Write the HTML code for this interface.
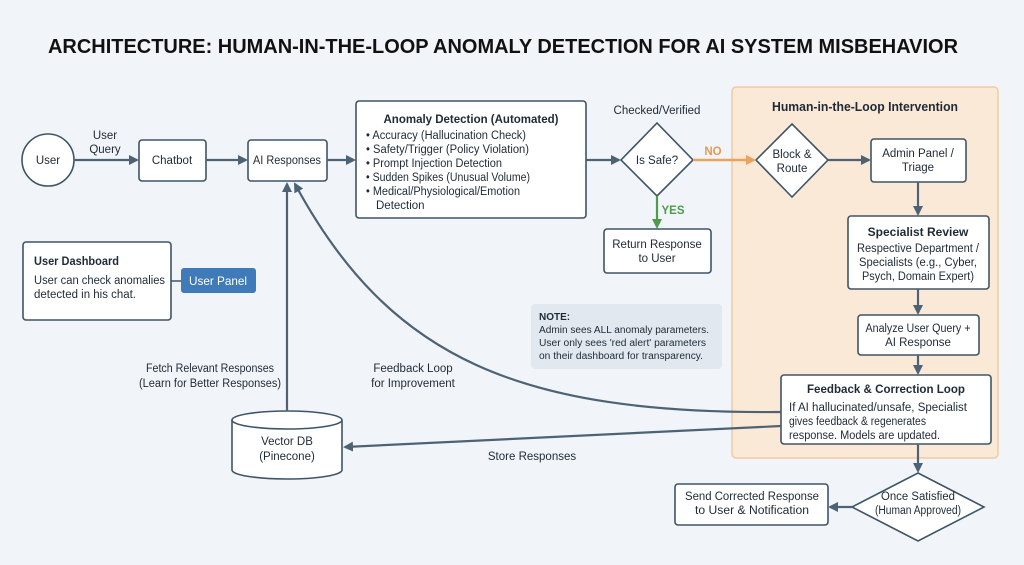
<!DOCTYPE html>
<html><head><meta charset="utf-8"><style>
html,body{margin:0;padding:0;background:#f1f5f9;}
svg{display:block;font-family:"Liberation Sans",sans-serif;}
</style></head><body>
<svg width="1024" height="565" viewBox="0 0 1024 565" xmlns="http://www.w3.org/2000/svg">
<defs>
<marker id="a" markerWidth="10" markerHeight="10" refX="8" refY="5" orient="auto" markerUnits="userSpaceOnUse"><path d="M0,0 L10,5 L0,10 z" fill="#4d6275"/></marker>
<marker id="o" markerWidth="10" markerHeight="10" refX="8" refY="5" orient="auto" markerUnits="userSpaceOnUse"><path d="M0,0 L10,5 L0,10 z" fill="#e9a35e"/></marker>
<marker id="g" markerWidth="10" markerHeight="10" refX="8" refY="5" orient="auto" markerUnits="userSpaceOnUse"><path d="M0,0 L10,5 L0,10 z" fill="#4f9a4f"/></marker>
</defs>
<rect width="1024" height="565" fill="#f1f5f9"/>
<text x="503" y="53" text-anchor="middle" font-size="20" font-weight="bold" fill="#111" textLength="910" lengthAdjust="spacingAndGlyphs">ARCHITECTURE: HUMAN-IN-THE-LOOP ANOMALY DETECTION FOR AI SYSTEM MISBEHAVIOR</text>

<rect x="732" y="87" width="266" height="371" rx="4" fill="#fbe9d7" stroke="#f0cba3" stroke-width="1.5"/>
<text x="865" y="111" text-anchor="middle" font-size="13" font-weight="bold" fill="#1f2a36" textLength="186" lengthAdjust="spacingAndGlyphs">Human-in-the-Loop Intervention</text>

<g fill="#fff" stroke="#3f5466" stroke-width="1.6">
<circle cx="48" cy="160" r="26"/>
<rect x="139" y="140" width="67" height="41" rx="3"/>
<rect x="248" y="140" width="79" height="41" rx="3"/>
<rect x="356" y="101" width="230" height="117" rx="3"/>
<rect x="23" y="242" width="148" height="78" rx="3"/>
<polygon points="657,123 693,160 657,196 621,160"/>
<rect x="604" y="229" width="107" height="44" rx="3"/>
<polygon points="792,124 828,160 792,197 756,160"/>
<rect x="871" y="139" width="95" height="43" rx="3"/>
<rect x="848" y="216" width="141" height="73" rx="3"/>
<rect x="858" y="315" width="121" height="40" rx="3"/>
<rect x="781" y="375" width="210" height="69" rx="3"/>
<polygon points="918,473 984,507 918,541 852,507"/>
<rect x="675" y="484" width="153" height="41" rx="3"/>
</g>
<rect x="181" y="268" width="75" height="25" rx="3" fill="#3f7bb8"/>
<line x1="171" y1="281" x2="181" y2="281" stroke="#3f5466" stroke-width="1.5"/>
<rect x="531" y="304" width="191" height="65" rx="4" fill="#e1e8ef"/>

<g fill="#fff" stroke="#3f5466" stroke-width="1.6">
<path d="M232,420 L232,470 A55,9 0 0 0 342,470 L342,420"/>
<ellipse cx="287" cy="420" rx="55" ry="9"/>
</g>

<g stroke="#4d6275" stroke-width="2.2" fill="none">
<line x1="74" y1="160" x2="137" y2="160" marker-end="url(#a)"/>
<line x1="206" y1="160" x2="246" y2="160" marker-end="url(#a)"/>
<line x1="327" y1="160" x2="354" y2="160" marker-end="url(#a)"/>
<line x1="586" y1="160" x2="619" y2="160" marker-end="url(#a)"/>
<line x1="828" y1="160" x2="869" y2="160" marker-end="url(#a)"/>
<line x1="918" y1="182" x2="918" y2="214" marker-end="url(#a)"/>
<line x1="918" y1="289" x2="918" y2="313" marker-end="url(#a)"/>
<line x1="918" y1="355" x2="918" y2="373" marker-end="url(#a)"/>
<line x1="918" y1="444" x2="918" y2="471" marker-end="url(#a)"/>
<line x1="852" y1="507" x2="830" y2="507" marker-end="url(#a)"/>
<line x1="287" y1="411" x2="287" y2="184" marker-end="url(#a)"/>
<path d="M781,412 C520,414 390,360 295,184" marker-end="url(#a)"/>
<line x1="781" y1="426" x2="345" y2="447" marker-end="url(#a)"/>
</g>
<line x1="693" y1="160" x2="754" y2="160" stroke="#e9a35e" stroke-width="2.4" marker-end="url(#o)"/>
<line x1="657" y1="196" x2="657" y2="227" stroke="#4f9a4f" stroke-width="2.2" marker-end="url(#g)"/>

<g font-size="11.5" fill="#1f2a36" text-anchor="middle">
<text x="48" y="164">User</text>
<text x="105" y="139">User</text>
<text x="105" y="153">Query</text>
<text x="172" y="164">Chatbot</text>
<text x="287" y="164" textLength="68" lengthAdjust="spacingAndGlyphs">AI Responses</text>
<text x="471" y="123" font-weight="bold" font-size="12" textLength="175" lengthAdjust="spacingAndGlyphs">Anomaly Detection (Automated)</text>
<text x="657" y="114">Checked/Verified</text>
<text x="657" y="164">Is Safe?</text>
<text x="713" y="155" fill="#e59a4f" font-weight="bold">NO</text>
<text x="673" y="214" fill="#4f9a4f" font-weight="bold">YES</text>
<text x="657" y="248">Return Response</text>
<text x="657" y="262">to User</text>
<text x="792" y="158">Block &amp;</text>
<text x="792" y="172">Route</text>
<text x="918" y="157">Admin Panel /</text>
<text x="918" y="171">Triage</text>
<text x="918" y="236" font-weight="bold" font-size="12">Specialist Review</text>
<text x="918" y="252" textLength="122" lengthAdjust="spacingAndGlyphs">Respective Department /</text>
<text x="918" y="266" textLength="118" lengthAdjust="spacingAndGlyphs">Specialists (e.g., Cyber,</text>
<text x="918" y="280" textLength="112" lengthAdjust="spacingAndGlyphs">Psych, Domain Expert)</text>
<text x="918" y="332" textLength="105" lengthAdjust="spacingAndGlyphs">Analyze User Query +</text>
<text x="918" y="346">AI Response</text>
<text x="886" y="393" font-weight="bold" font-size="12" textLength="158" lengthAdjust="spacingAndGlyphs">Feedback &amp; Correction Loop</text>
<text x="918" y="500" textLength="74" lengthAdjust="spacingAndGlyphs">Once Satisfied</text>
<text x="918" y="514" textLength="86" lengthAdjust="spacingAndGlyphs">(Human Approved)</text>
<text x="752" y="500" textLength="134" lengthAdjust="spacingAndGlyphs">Send Corrected Response</text>
<text x="752" y="514" textLength="114" lengthAdjust="spacingAndGlyphs">to User &amp; Notification</text>
<text x="287" y="445">Vector DB</text>
<text x="287" y="460">(Pinecone)</text>
<text x="532" y="460">Store Responses</text>
<text x="210" y="372" textLength="128" lengthAdjust="spacingAndGlyphs">Fetch Relevant Responses</text>
<text x="210" y="387" textLength="142" lengthAdjust="spacingAndGlyphs">(Learn for Better Responses)</text>
<text x="413" y="372">Feedback Loop</text>
<text x="413" y="387">for Improvement</text>
<text x="218" y="285" fill="#fff" font-size="12" textLength="58" lengthAdjust="spacingAndGlyphs">User Panel</text>
</g>
<g font-size="11.5" fill="#1f2a36">
<text x="366" y="139" textLength="160" lengthAdjust="spacingAndGlyphs">• Accuracy (Hallucination Check)</text>
<text x="366" y="153" textLength="163" lengthAdjust="spacingAndGlyphs">• Safety/Trigger (Policy Violation)</text>
<text x="366" y="167" textLength="136" lengthAdjust="spacingAndGlyphs">• Prompt Injection Detection</text>
<text x="366" y="181" textLength="164" lengthAdjust="spacingAndGlyphs">• Sudden Spikes (Unusual Volume)</text>
<text x="366" y="195" textLength="154" lengthAdjust="spacingAndGlyphs">• Medical/Physiological/Emotion</text>
<text x="376" y="209">Detection</text>
<text x="34" y="265" font-weight="bold" font-size="12" textLength="85" lengthAdjust="spacingAndGlyphs">User Dashboard</text>
<text x="34" y="284" textLength="131" lengthAdjust="spacingAndGlyphs">User can check anomalies</text>
<text x="34" y="298" textLength="102" lengthAdjust="spacingAndGlyphs">detected in his chat.</text>
<text x="789" y="411" textLength="178" lengthAdjust="spacingAndGlyphs">If AI hallucinated/unsafe, Specialist</text>
<text x="789" y="425" textLength="137" lengthAdjust="spacingAndGlyphs">gives feedback &amp; regenerates</text>
<text x="789" y="439" textLength="151" lengthAdjust="spacingAndGlyphs">response. Models are updated.</text>
</g>
<g font-size="10" fill="#1f2a36">
<text x="539" y="320" font-weight="bold">NOTE:</text>
<text x="539" y="333" textLength="170" lengthAdjust="spacingAndGlyphs">Admin sees ALL anomaly parameters.</text>
<text x="539" y="346" textLength="167" lengthAdjust="spacingAndGlyphs">User only sees 'red alert' parameters</text>
<text x="539" y="359" textLength="164" lengthAdjust="spacingAndGlyphs">on their dashboard for transparency.</text>
</g>
</svg>
</body></html>
